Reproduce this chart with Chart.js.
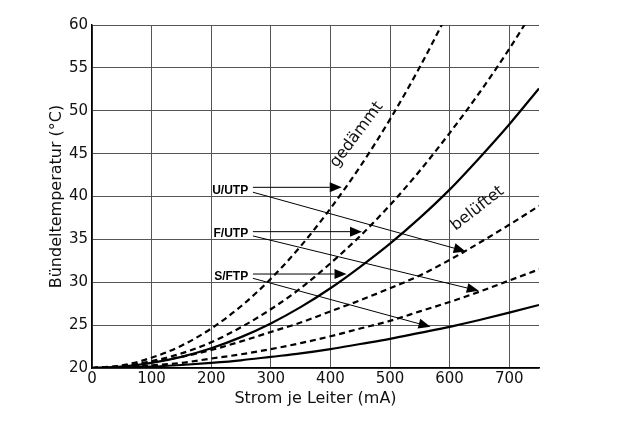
<!DOCTYPE html>
<html>
<head>
<meta charset="utf-8">
<script src="https://cdn.jsdelivr.net/npm/chart.js@4.4.0/dist/chart.umd.min.js"></script>
<style>
  html, body { margin: 0; background: #fff; }
  canvas { display: block; }
</style>
</head>
<body>
<canvas id="chart" width="622" height="422"></canvas>
<script>
// Current per conductor (mA)
const current = [0, 50, 100, 150, 200, 250, 300, 350, 400, 450, 500, 550, 600, 650, 700, 750];

// Bundle temperature (°C), insulated (gedämmt)
const uutpInsulated = [20, 20.3, 21.2, 22.6, 24.6, 27.2, 30.4, 34.2, 38.6, 43.5, 49.0, 55.1, 61.8];
const futpInsulated = [20, 20.2, 20.8, 21.7, 23.0, 24.75, 26.85, 29.3, 32.2, 35.4, 39.0, 43.0, 47.4, 52.1, 57.2, 62.75];
const sftpInsulated = [20, 20.15, 20.6, 21.3, 22.3, 23.6, 25.2, 27.1, 29.3, 31.8, 34.5, 37.5, 40.8, 44.5, 48.4, 52.6];

// Bundle temperature (°C), ventilated (belüftet)
const uutpVentilated = [20, 20.2, 20.7, 21.3, 22.1, 23.1, 24.2, 25.3, 26.6, 27.9, 29.3, 30.8, 32.6, 34.6, 36.7, 38.9];
const futpVentilated = [20, 20.1, 20.3, 20.6, 21.1, 21.6, 22.2, 22.9, 23.7, 24.6, 25.5, 26.6, 27.7, 28.9, 30.2, 31.5];
const sftpVentilated = [20, 20.05, 20.15, 20.35, 20.6, 20.9, 21.3, 21.7, 22.2, 22.8, 23.4, 24.1, 24.8, 25.6, 26.45, 27.35];

// Tick labels
const xTicks = [0, 100, 200, 300, 400, 500, 600, 700];
const yTicks = [20, 25, 30, 35, 40, 45, 50, 55, 60];

// Cable type labels with their two arrows (in mA / °C)
const cableLabels = ['U/UTP', 'F/UTP', 'S/FTP'];
const labelAt = [[262, 40.65], [262, 35.7], [262, 30.6]];
const arrowsInsulated = [[270, 41.07, 419, 41.07], [270, 35.9, 453, 35.9], [270, 30.96, 427, 30.96]];
const arrowsVentilated = [[270, 40.5, 627, 33.6], [270, 35.4, 649, 29.0], [270, 30.46, 568, 24.8]];

// Rotated group captions
const captions = [
    { text: 'gedämmt', x: 444, y: 47.2, angle: -53 },
    { text: 'belüftet', x: 647, y: 38.6, angle: -38 }
];

const FONT = 'DejaVu Sans';

function points(values) {
    return values.map((v, i) => ({ x: current[i], y: v }));
}

function line(values, dashed) {
    return {
        data: points(values),
        borderColor: '#000',
        borderWidth: 2.2,
        borderDash: dashed ? [6, 4] : [],
        pointRadius: 0,
        cubicInterpolationMode: 'monotone',
        fill: false
    };
}

function drawArrow(ctx, x0, y0, x1, y1) {
    const ang = Math.atan2(y1 - y0, x1 - x0);
    const len = 12, half = 5;
    const bx = x1 - len * Math.cos(ang), by = y1 - len * Math.sin(ang);
    ctx.beginPath();
    ctx.moveTo(x0, y0);
    ctx.lineTo(bx, by);
    ctx.stroke();
    ctx.beginPath();
    ctx.moveTo(x1, y1);
    ctx.lineTo(bx + half * Math.sin(ang), by - half * Math.cos(ang));
    ctx.lineTo(bx - half * Math.sin(ang), by + half * Math.cos(ang));
    ctx.closePath();
    ctx.fill();
}

// Draws the cable labels, arrows and group captions
const annotations = {
    id: 'annotations',
    afterDatasetsDraw(chart) {
        const { ctx, scales: { x, y } } = chart;
        ctx.save();
        ctx.strokeStyle = '#000';
        ctx.fillStyle = '#000';
        ctx.lineWidth = 1;

        cableLabels.forEach((label, i) => {
            ctx.font = 'bold 12px "Liberation Sans"';
            ctx.textAlign = 'right';
            ctx.textBaseline = 'middle';
            ctx.fillText(label, x.getPixelForValue(labelAt[i][0]), y.getPixelForValue(labelAt[i][1]));
            [arrowsInsulated[i], arrowsVentilated[i]].forEach(a => {
                drawArrow(ctx,
                    x.getPixelForValue(a[0]), y.getPixelForValue(a[1]),
                    x.getPixelForValue(a[2]), y.getPixelForValue(a[3]));
            });
        });

        captions.forEach(c => {
            ctx.save();
            ctx.translate(x.getPixelForValue(c.x), y.getPixelForValue(c.y));
            ctx.rotate(c.angle * Math.PI / 180);
            ctx.font = '16px "' + FONT + '"';
            ctx.textAlign = 'center';
            ctx.textBaseline = 'middle';
            ctx.fillStyle = '#111';
            ctx.fillText(c.text, 0, 0);
            ctx.restore();
        });
        ctx.restore();
    }
};

new Chart(document.getElementById('chart'), {
    type: 'line',
    data: {
        datasets: [
            line(uutpInsulated, true),
            line(futpInsulated, true),
            line(sftpInsulated, false),
            line(uutpVentilated, true),
            line(futpVentilated, true),
            line(sftpVentilated, false)
        ]
    },
    options: {
        responsive: false,
        animation: false,
        layout: { padding: { top: 25, right: 83, left: 0, bottom: 0 } },
        plugins: { legend: { display: false }, tooltip: { enabled: false } },
        scales: {
            x: {
                type: 'linear',
                min: 0,
                max: 750,
                afterBuildTicks: s => { s.ticks = xTicks.map(v => ({ value: v })); },
                afterFit: s => { s.height = 54; },
                grid: { color: '#555', lineWidth: 1, drawTicks: false },
                border: { color: '#000', width: 1.5 },
                ticks: { color: '#111', padding: 2, maxRotation: 0, font: { family: FONT, size: 15 } },
                title: {
                    display: true,
                    text: 'Strom je Leiter (mA)',
                    color: '#111',
                    font: { family: FONT, size: 16 },
                    padding: { top: 0, bottom: 14 }
                }
            },
            y: {
                min: 20,
                max: 60,
                afterBuildTicks: s => { s.ticks = yTicks.map(v => ({ value: v })); },
                afterFit: s => { s.width = 92; },
                grid: { color: '#555', lineWidth: 1, drawTicks: false },
                border: { color: '#000', width: 1.5 },
                ticks: { color: '#111', padding: 4, font: { family: FONT, size: 15 } },
                title: {
                    display: true,
                    text: 'Bündeltemperatur (°C)',
                    color: '#111',
                    font: { family: FONT, size: 16 },
                    padding: { top: 47, bottom: 0 }
                }
            }
        }
    },
    plugins: [annotations]
});
</script>
</body>
</html>
